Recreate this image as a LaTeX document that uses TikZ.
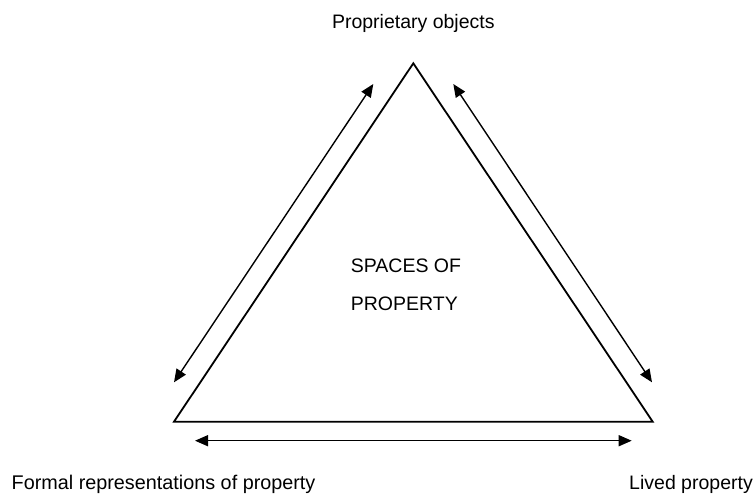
\documentclass[tikz,border=0pt]{standalone}
\usepackage{fontspec}
\setmainfont{Liberation Sans}
\usetikzlibrary{arrows.meta}
\tikzset{
  tri/.style={line width=1.8pt, line join=miter},
  dblarrow/.style={line width=1.4pt, {Triangle[length=13pt,width=11pt]}-{Triangle[length=13pt,width=11pt]}},
  lbl/.style={font=\fontsize{19.5pt}{23pt}\selectfont, inner sep=0pt}
}
\begin{document}
\begin{tikzpicture}[x=1pt,y=-1pt]
\useasboundingbox (0,0) rectangle (755,493);
% triangle vertices
\coordinate (T) at (413.3,63.3);
\coordinate (BL) at (174,421.7);
\coordinate (BR) at (652.7,421.7);
\draw[tri] (T) -- (BL) -- (BR) -- cycle;
% arrow ends
\coordinate (la) at (373.3,84);
\coordinate (lb) at (174,382.3);
\coordinate (ra) at (453.3,84);
\coordinate (rb) at (652,382.3);
\coordinate (ba) at (195,440.7);
\coordinate (bb) at (631.7,440.7);
\draw[dblarrow] (la) -- (lb);
\draw[dblarrow] (ra) -- (rb);
\draw[dblarrow] (ba) -- (bb);
% labels
\node[lbl, anchor=base] (top) at (413.3,28.5) {Proprietary objects};
\node[lbl, font=\fontsize{19.8pt}{24pt}\selectfont, anchor=base west] (left) at (11.5,489) {Formal representations of property};
\node[lbl, anchor=base east] (right) at (753,489) {Lived property};
\node[lbl, anchor=base west] (c1) at (350.7,272.7) {SPACES OF};
\node[lbl, anchor=base west] (c2) at (350.7,310) {PROPERTY};
\end{tikzpicture}
\end{document}
